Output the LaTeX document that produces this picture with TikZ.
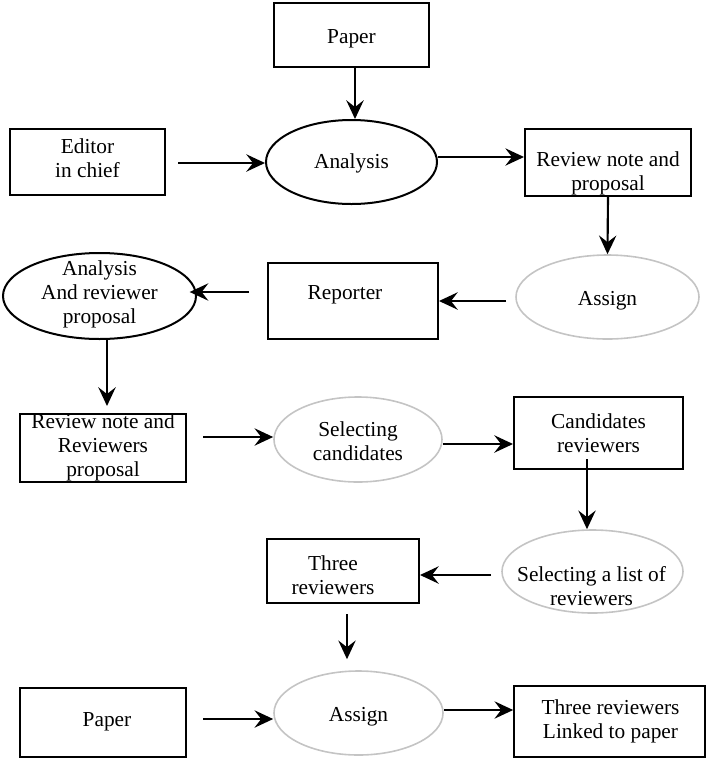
\documentclass[tikz,border=0pt]{standalone}
\usepackage{fontspec}
\setmainfont{Liberation Serif}
\usetikzlibrary{arrows.meta,shapes.geometric}
\definecolor{softgray}{RGB}{196,196,196}
\tikzset{
  boxst/.style={draw=black, line width=1.5pt, rectangle, inner sep=0pt},
  ellblack/.style={draw=black, line width=1.5pt, ellipse, inner sep=0pt},
  ellgray/.style={draw=softgray, line width=1.2pt, ellipse, inner sep=0pt},
  txt/.style={inner sep=0pt, align=center, font=\fontsize{16}{18}\selectfont},
  arr/.style={line width=1.6pt, -{Stealth[length=14pt,width=13pt,inset=5pt]}},
}
\begin{document}
\begin{tikzpicture}[x=0.75pt,y=-0.75pt]
\useasboundingbox (0,0) rectangle (706,758);
% shapes
\node[boxst, minimum width=116.25pt, minimum height=48pt] (paper1) at (351.5,35) {};
\node[boxst, minimum width=116.25pt, minimum height=49.5pt] (editor) at (87.5,162) {};
\node[ellblack, minimum width=128.25pt, minimum height=63pt] (analysis) at (351.5,162) {};
\node[boxst, minimum width=124.5pt, minimum height=50.25pt] (rev1) at (608,162.5) {};
\node[ellgray, minimum width=137.25pt, minimum height=63pt] (assign1) at (607.5,297) {};
\node[boxst, minimum width=127.5pt, minimum height=57pt] (reporter) at (353,301) {};
\node[ellblack, minimum width=144.75pt, minimum height=64.5pt] (analysis2) at (99.5,296) {};
\node[boxst, minimum width=124.5pt, minimum height=51pt] (rev2) at (103,448) {};
\node[ellgray, minimum width=126pt, minimum height=63.75pt] (selcand) at (358,439.5) {};
\node[boxst, minimum width=126.75pt, minimum height=54pt] (cand) at (598.5,433) {};
\node[ellgray, minimum width=135.75pt, minimum height=62.25pt] (sellist) at (592.5,571.5) {};
\node[boxst, minimum width=114pt, minimum height=48pt] (three) at (343,571) {};
\node[ellgray, minimum width=126.75pt, minimum height=63pt] (assign2) at (358.5,713) {};
\node[boxst, minimum width=124.5pt, minimum height=51.75pt] (paper2) at (103,722.5) {};
\node[boxst, minimum width=143pt, minimum height=53.25pt] (linked) at (609.5,721.5) {};
% texts
\node[txt] (paper1t) at (351.5,39) {Paper};
\node[txt] (editort) at (87.5,158) {Editor\\in chief};
\node[txt] (analysist) at (351.5,163) {Analysis};
\node[txt] (rev1t) at (608,173) {Review note and\\proposal};
\node[txt] (assign1t) at (607.5,301) {Assign};
\node[txt] (reportert) at (345,295) {Reporter};
\node[txt] (analysis2t) at (99.5,294) {Analysis\\And reviewer\\proposal};
\node[txt] (rev2t) at (103,447) {Review note and\\Reviewers\\proposal};
\node[txt] (selcandt) at (358,441) {Selecting\\candidates};
\node[txt] (candt) at (598.5,433) {Candidates\\reviewers};
\node[txt] (sellistt) at (591.5,586) {Selecting a list of\\reviewers};
\node[txt] (threet) at (333,575) {Three\\reviewers};
\node[txt] (assign2t) at (358.5,717) {Assign};
\node[txt] (paper2t) at (107,722) {Paper};
\node[txt] (linkedt) at (610.5,721) {Three reviewers\\Linked to paper};
% connectors
\draw[arr] (355,0 |- paper1.south) -- (355,0 |- analysis.north);
\draw[arr, shorten <=9pt] (editor.east |- 0,163) -- (analysis.west |- 0,163);
\draw[arr, line width=1.2pt] (analysis.east |- 0,157) -- (rev1.west |- 0,157);
\draw[arr] (rev1.south) -- (assign1.north);
\draw[arr, shorten <=6.75pt] (assign1.west |- 0,301) -- (reporter.east |- 0,301);
\draw[arr, shorten <=13.5pt, shorten >=-5.5pt] (reporter.west |- 0,292) -- (analysis2.east |- 0,292);
\draw[arr, shorten >=5.25pt] (107,0 |- analysis2.south) -- (107,0 |- rev2.north);
\draw[arr, shorten <=12pt] (rev2.east |- 0,437) -- (selcand.west |- 0,437);
\draw[arr] (selcand.east |- 0,444) -- (cand.west |- 0,444);
\draw[arr, shorten <=-8.25pt] (587,0 |- cand.south) -- (587,0 |- sellist.north);
\draw[arr, shorten <=7.5pt] (sellist.west |- 0,575) -- (three.east |- 0,575);
\draw[arr, shorten <=7.5pt, shorten >=8.25pt] (347,0 |- three.south) -- (347,0 |- assign2.north);
\draw[arr, shorten <=12pt] (paper2.east |- 0,719) -- (assign2.west |- 0,719);
\draw[arr] (assign2.east |- 0,710) -- (linked.west |- 0,710);
\end{tikzpicture}
\end{document}
